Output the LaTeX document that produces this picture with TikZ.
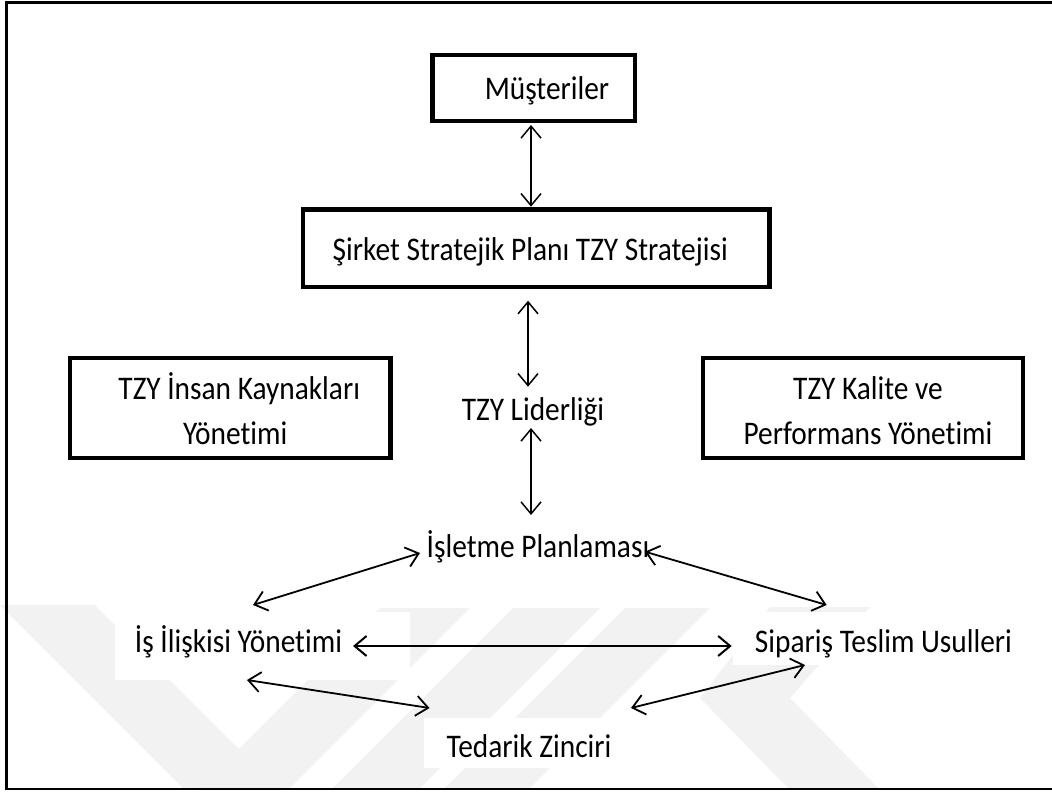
\documentclass[tikz,border=0pt]{standalone}
\usepackage{fontspec}
\setmainfont{Carlito}[FakeStretch=0.89, Ligatures=NoCommon]
\usetikzlibrary{arrows.meta,calc}
\begin{document}
\begin{tikzpicture}[x=1pt,y=-1pt,
  txt/.style={font=\fontsize{33}{45}\selectfont},
  lbl/.style={txt, inner sep=0pt, outer sep=0pt, text height=20pt, text depth=6pt, anchor=base},
  box/.style={txt, draw, line width=4.5pt, inner sep=0pt, outer sep=0pt, align=center},
  arr/.style={line width=1.6pt, {Straight Barb[length=12pt,width=20pt]}-{Straight Barb[length=12pt,width=20pt]}},
  wmark/.style={fill=black!5}]
\useasboundingbox (0,0) rectangle (1052,794);
\fill[white] (0,0) rectangle (1052,794);

% faint background stripes
\fill[wmark] (0,605) -- (95,605) -- (280,790) -- (185,790) -- cycle;
\fill[wmark] (380,608) -- (470,608) -- (288,790) -- (198,790) -- cycle;
\fill[wmark] (513,608) -- (600,608) -- (418,790) -- (331,790) -- cycle;
\fill[wmark] (625,608) -- (710,608) -- (528,790) -- (443,790) -- cycle;
\fill[wmark] (770,607) -- (870,607) -- (790,698) -- (880,790) -- (790,790) -- (700,698) -- cycle;
\fill[white] (115,612) rectangle (410,680);
\fill[white] (733,612) rectangle (870,665);
\fill[white] (424,718) rectangle (630,768);

% outer frame
\draw[line width=2.5pt] (1052,2.7) -- (6.5,2.7) -- (6.5,789) -- (1052,789);

% boxes
\node[box, minimum width=202.5pt, minimum height=66pt, text height=24pt, text depth=0pt]
  (mus) at (533.75,88) {\hspace*{26.5pt}Müşteriler};
\node[box, minimum width=466.5pt, minimum height=77.5pt, text height=25.5pt, text depth=0pt]
  (sirket) at (536.25,248.25) {Şirket Stratejik Planı TZY Stratejisi\hspace*{12pt}};
\node[box, minimum width=320.5pt, minimum height=100pt, text height=72pt, text depth=0pt]
  (ik) at (230.25,408) {\hspace*{18pt}TZY İnsan Kaynakları\\\hspace*{10pt}Yönetimi};
\node[box, minimum width=320pt, minimum height=100pt, text height=72pt, text depth=0pt]
  (kalite) at (863,408) {\hspace*{10pt}TZY Kalite ve\\\hspace*{10pt}Performans Yönetimi};

% plain labels
\node[lbl] (lid) at (533,420) {TZY Liderliği};
\node[lbl] (isl) at (538,557) {İşletme Planlaması};
\node[lbl] (ilis) at (238.5,652) {İş İlişkisi Yönetimi};
\node[lbl] (sip) at (883.5,652) {Sipariş Teslim Usulleri};
\node[lbl] (ted) at (529,757) {Tedarik Zinciri};

% connectors
\draw[arr, line width=1.5pt] ($(mus.south)+(-2.75,4)$) -- ($(sirket.north)+(-5.25,-2.8)$);
\draw[arr, line width=1.5pt] ($(sirket.south)+(-8.25,13.7)$) -- ($(lid.north)+(-5,-13.3)$);
\draw[arr, line width=1.5pt] ($(lid.south)+(-2,2)$) -- ($(isl.north)+(-7,-22)$);
\draw[arr, line width=1.8pt] ($(isl.base)+(-118,-4)$) -- ($(ilis.base)+(14.5,-47)$);
\draw[arr, line width=1.8pt] ($(isl.base)+(107,-5.3)$) -- ($(sip.base)+(-56.8,-47)$);
\draw[arr, line width=2pt] ($(ilis.base)+(114.5,-6)$) -- ($(sip.base)+(-151.8,-6)$);
\draw[arr, line width=1.8pt] ($(ilis.base)+(8.5,28)$) -- ($(ted.base)+(-99.5,-49)$);
\draw[arr, line width=1.8pt] ($(ted.base)+(102,-49)$) -- ($(sip.base)+(-78.5,13)$);
\end{tikzpicture}
\end{document}
